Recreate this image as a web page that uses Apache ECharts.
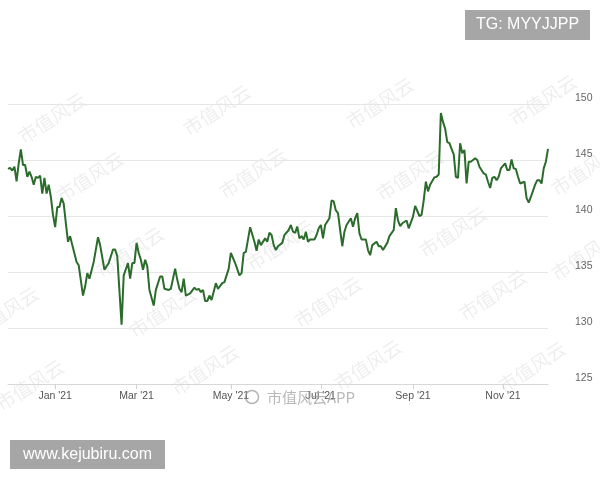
<!DOCTYPE html>
<html>
<head>
<meta charset="utf-8">
<script src="https://cdn.jsdelivr.net/npm/echarts@6/dist/echarts.min.js"></script>
<style>html,body{margin:0;padding:0;background:#fff}#c{width:600px;height:480px}</style>
</head>
<body>
<div id="c"></div>
<script>
// Trading-day axis: 2020-12-01 .. 2021-12-01 (weekdays minus market holidays)
const startDate = '2020-12-01';
const endDate = '2021-12-01';
const holidays = ['2020-12-25','2021-01-01','2021-01-18','2021-02-15','2021-04-02','2021-05-31','2021-07-05','2021-09-06','2021-11-25'];
const tickMonths = ['2021-01','2021-03','2021-05','2021-07','2021-09','2021-11'];
const tickLabels = ["Jan '21","Mar '21","May '21","Jul '21","Sep '21","Nov '21"];
const yTicks = [125, 130, 135, 140, 145, 150];

// Sampled closes: trading-day number (0 = 2020-12-01) and value
const sampleDay = [
 0,1,2,3,4,5,6,7,8,9,10,11,12,13,14,15,16,17,18,19,20,21,22,23,24,25,26,27,28,29,30,32,33,35,36,37,38,40,42,43,45,47,49,50,51,53,54,56,57,58,59,60,61,
 62,63,64,65,66,68,69,71,72,73,75,76,78,79,80,81,82,83,85,87,88,89,90,91,92,93,94,95,97,98,100,101,103,104,106,108,109,110,111,113,115,116,117,118,120,121,122,123,124,
 125,126,128,129,131,132,133,134,135,136,137,138,139,140,141,143,144,145,146,147,148,150,151,152,153,154,155,156,157,158,160,161,162,163,164,165,167,168,169,170,172,173,174,175,177,178,180,181,182,183,184,
 186,187,189,190,192,193,194,195,196,197,199,200,201,202,203,204,205,206,207,208,209,210,211,212,213,214,215,216,218,219,220,222,223,224,225,226,227,228,229,230,232,233,234,235,236,237,238,239,241,242,243,244,246,247,248,249,250,251,252
];
const price = [
 144.2,144.3,144.05,144.4,143.1,144.7,145.95,144.55,144.55,143.5,143.95,143.5,142.8,143.5,143.4,143.6,142.0,143.4,142.0,142.8,141.7,140.1,139.0,140.8,140.8,141.6,141.1,139.35,137.7,138.2,137.4,135.9,135.6,132.9,133.7,134.9,134.4,135.9,138.1,137.4,135.2,135.8,137.0,137.0,136.4,130.3,134.7,135.8,134.4,135.8,135.8,137.6,136.7,
 136.1,135.2,136.1,135.5,133.4,132.0,133.4,134.6,134.6,133.5,133.4,133.5,135.3,134.3,133.5,133.2,134.4,132.9,133.1,133.6,133.4,133.5,133.2,133.4,132.4,132.4,132.9,132.5,134.0,133.5,134.0,134.1,135.3,136.7,135.8,134.7,134.9,136.7,136.8,139.0,137.7,136.9,137.9,137.4,138.0,137.7,138.5,138.3,137.4,
 136.96,137.3,137.6,138.3,138.75,139.2,138.6,138.5,139.05,138.0,138.2,137.9,138.6,137.7,137.9,137.9,138.3,138.9,139.2,138.0,139.2,139.8,141.4,141.3,140.5,140.25,138.75,137.3,138.6,139.2,139.8,139.05,139.8,140.25,138.45,137.9,137.9,136.96,136.5,137.4,137.7,137.3,137.3,136.96,137.6,138.2,138.75,140.7,139.6,139.1,139.35,
 139.6,138.9,139.95,140.9,140.0,140.1,141.4,143.06,142.2,142.8,143.45,143.5,143.7,149.2,148.4,147.8,146.6,146.5,146.0,145.5,143.5,143.4,146.5,145.6,145.9,142.9,144.85,144.85,145.15,145.0,144.4,143.8,143.7,143.06,142.5,143.4,143.5,143.2,143.5,144.25,144.7,144.1,144.1,145.05,144.25,144.2,143.5,142.9,143.06,141.6,141.2,141.7,142.8,143.2,143.2,142.9,144.25,144.85,146.0
];

// Build trading days
function fmt(d){return d.toISOString().slice(0,10);}
const tradingDays = [];
for (let d = new Date(startDate+'T00:00:00Z'); fmt(d) <= endDate; d.setUTCDate(d.getUTCDate()+1)) {
  const wd = d.getUTCDay();
  const s = fmt(d);
  if (wd === 0 || wd === 6 || holidays.includes(s)) continue;
  tradingDays.push(s);
}
const tickIdx = tickMonths.map(m => tradingDays.findIndex(s => s.startsWith(m)));
const seriesData = sampleDay.map((d, i) => [tradingDays[d], price[i]]);

// Watermark positions (centres) of the faint "市值风云" stamp
const wmX = [52, 90, 130, 217, 253, 280, 380, 543, 453, 493, 532, 328, 163, 30, 205, 368, 410, 585, 5, 585];
const wmY = [118,177, 252, 110, 173, 245, 103, 100, 232, 295, 367, 302, 312, 385, 370, 365, 175, 170, 312, 255];

const graphics = wmX.map((x, i) => ({
  type: 'text', x: x, y: wmY[i], rotation: 33 * Math.PI / 180, z: 0, silent: true,
  style: { text: '市值风云', font: '19px "Noto Sans CJK SC"', fill: 'rgba(0,0,0,0.07)', textAlign: 'center', textVerticalAlign: 'middle' }
}));
graphics.push(
  { type: 'circle', shape: { cx: 252, cy: 397, r: 6.5 }, z: 50, silent: true, style: { fill: 'none', stroke: 'rgba(150,150,150,0.7)', lineWidth: 1.5 } },
  { type: 'text', x: 267, y: 397, z: 50, silent: true,
    style: { text: '市值风云APP', font: '15px "Noto Sans CJK SC"', fill: 'rgba(160,160,160,0.75)', textVerticalAlign: 'middle' } },
  { type: 'rect', shape: { x: 465, y: 10, width: 125, height: 30 }, z: 60, style: { fill: '#a6a6a6' } },
  { type: 'text', x: 527.5, y: 25, z: 61, style: { text: 'TG: MYYJJPP', font: '16px "Liberation Sans"', fill: '#ffffff', textAlign: 'center', textVerticalAlign: 'middle' } },
  { type: 'rect', shape: { x: 10, y: 440, width: 155, height: 29 }, z: 60, style: { fill: '#a6a6a6' } },
  { type: 'text', x: 87.5, y: 455, z: 61, style: { text: 'www.kejubiru.com', font: '16px "Liberation Sans"', fill: '#ffffff', textAlign: 'center', textVerticalAlign: 'middle' } }
);

const chart = echarts.init(document.getElementById('c'), null, { renderer: 'canvas' });
chart.setOption({
  animation: false,
  backgroundColor: '#ffffff',
  grid: { left: 8, right: 52, top: 104, bottom: 96, containLabel: false },
  xAxis: {
    type: 'category',
    data: tradingDays,
    boundaryGap: false,
    axisLine: { lineStyle: { color: '#d8d8d8', width: 1 } },
    axisTick: { show: true, length: 5, lineStyle: { color: '#d0d0d0' }, interval: (i) => tickIdx.includes(i) },
    axisLabel: {
      interval: (i) => tickIdx.includes(i),
      formatter: (v, i) => { const k = tickIdx.indexOf(i); return k >= 0 ? tickLabels[k] : ''; },
      color: '#555', fontSize: 10.5, fontFamily: 'Liberation Sans', margin: 7
    },
    splitLine: { show: false }
  },
  yAxis: {
    type: 'value', position: 'right', min: yTicks[0], max: yTicks[yTicks.length-1], interval: 5,
    axisLine: { show: false }, axisTick: { show: false },
    axisLabel: { color: '#666', fontSize: 10.5, fontFamily: 'Liberation Sans', margin: 27, verticalAlign: 'bottom' },
    splitLine: { lineStyle: { color: '#e6e6e6', width: 1 } }
  },
  series: [{
    type: 'line', data: seriesData, showSymbol: false, symbol: 'none',
    lineStyle: { color: '#2b6b2b', width: 2 }, z: 5
  }],
  graphic: graphics
});
</script>
</body>
</html>
